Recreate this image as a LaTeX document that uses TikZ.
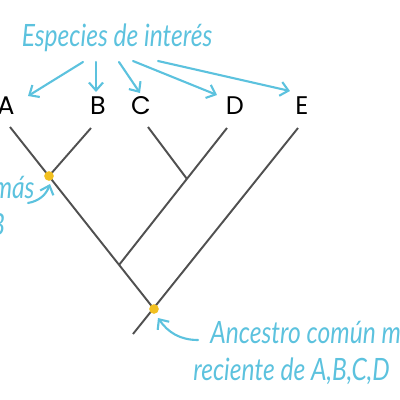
\documentclass[tikz,border=0pt]{standalone}
\usepackage{fontspec}
\usepackage{xcolor}
\setmainfont{Poppins}
\newfontfamily\handfont[FakeStretch=0.8]{Lato}
\usetikzlibrary{arrows.meta, positioning}

\definecolor{cielo}{RGB}{92,194,222}
\definecolor{rama}{RGB}{80,80,80}
\definecolor{oro}{RGB}{242,192,32}

\tikzset{
    especie/.style = {font = \fontsize{14.5}{17}\selectfont, text = black, inner sep = 0pt},
    nota/.style = {font = \handfont\itshape\fontsize{17.5}{21.5}\selectfont, text = cielo, align = center, inner sep = 0pt},
    flecha/.style = {draw = cielo, line width = 1.2pt, line cap = round, -{Straight Barb[length = 4.5pt, width = 8pt, line width = 1.2pt]}},
    linaje/.style = {draw = rama, line width = 1.1pt},
    ancestro/.style = {circle, fill = oro, inner sep = 0pt, minimum size = 5.5pt}
}

\begin{document}
\begin{tikzpicture}[x = 0.02cm, y = -0.02cm]
                \clip (0, 0) rectangle (400, 400);

                % arbol
                \coordinate (base) at (133, 334);
                \coordinate (nABCDE) at (154, 309);
                \coordinate (nABCD) at (119, 265);
                \coordinate (nAB) at (49, 176);
                \coordinate (nCD) at (187, 179);
                \coordinate (tA) at (10, 127);
                \coordinate (tB) at (91, 128);
                \coordinate (tC) at (148, 127);
                \coordinate (tD) at (227, 128);
                \coordinate (tE) at (298, 128);

                \draw [linaje] (base) to (tE);
                \draw [linaje] (nABCDE) to (tA);
                \draw [linaje] (nAB) to (tB);
                \draw [linaje] (nABCD) to (tD);
                \draw [linaje] (nCD) to (tC);

                \node [ancestro] (mrcaAB) at (nAB) {};
                \node [ancestro] (mrcaABCD) at (nABCDE) {};

                % especies
                \node [especie] (A) at (6, 106) { A };
                \node [especie] (B) at (98, 106) { B };
                \node [especie] (C) at (141, 106) { C };
                \node [especie] (D) at (235, 106) { D };
                \node [especie] (E) at (302, 106) { E };

                % notas
                \node [nota] (interes) at (120, 38) { Especies de interés };
                \node [nota] (notaAB) at (-72, 208) { Ancestro común más\\reciente de A,B };
                \node [nota, anchor = west, align = left] (notaABCD) at (193, 353) { \hspace{0.34cm}Ancestro común más\\reciente de A,B,C,D };

                \coordinate (s1) at (83, 62);
                \coordinate (s2) at (96, 62);
                \coordinate (s3) at (119, 62);
                \coordinate (s4) at (133, 61);
                \coordinate (s5) at (158, 61);
                \coordinate (e1) at (28, 96);
                \coordinate (e2) at (96, 92);
                \coordinate (e3) at (140, 93);
                \coordinate (e4) at (217, 95);
                \coordinate (e5) at (290, 91);

                \draw [flecha] (s1) to (e1);
                \draw [flecha] (s2) to (e2);
                \draw [flecha] (s3) to (e3);
                \draw [flecha] (s4) to (e4);
                \draw [flecha] (s5) to (e5);

                \coordinate (cAB) at (28, 203);
                \coordinate (pAB) at (50, 184);
                \coordinate (cABCD) at (198, 340);
                \coordinate (pABCD) at (158, 318);

                \draw [flecha] (cAB) to [out = 10, in = -110] (pAB);
                \draw [flecha] (cABCD) to [out = 180, in = -55] (pABCD);
            \end{tikzpicture}
\end{document}
